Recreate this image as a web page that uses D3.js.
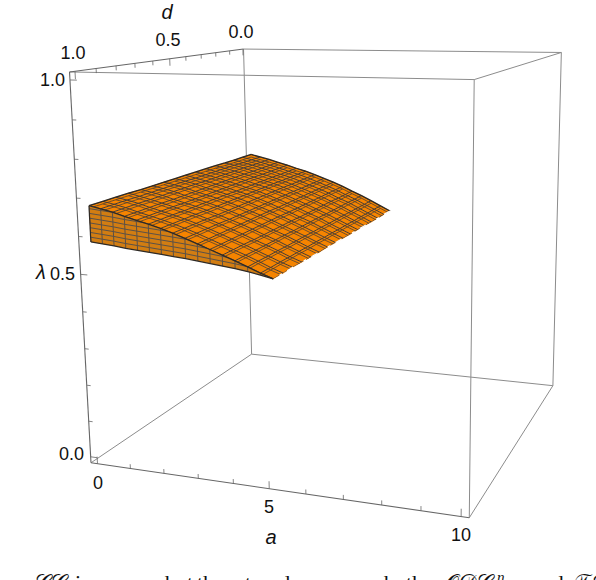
<!DOCTYPE html><html><head><meta charset="utf-8"><style>body{margin:0;background:#fff}text{font-family:"Liberation Sans",Arial,sans-serif;fill:#111}</style></head><body><script src="https://cdn.jsdelivr.net/npm/d3@7"></script>
<svg id="s" width="596" height="580"></svg>
<script>
// ---------- data ----------
const aDomain=[-0.2,10.2], dDomain=[-0.005,1.025], lambdaDomain=[-0.017,1.02];
const aTicks=[0,1,2,3,4,5,6,7,8,9,10];
const dTicks=[0,.1,.2,.3,.4,.5,.6,.7,.8,.9,1];
const lambdaTicks=[0,.1,.2,.3,.4,.5,.6,.7,.8,.9,1];
const aMajor=[0,5,10], dLabels=[0,.5,1], lambdaLabels=[0,.5,1];
const aGridShare=[0,.0667,.1333,.2,.2667,.3333,.4,.4667,.5333,.6,.6667,.7333,.8,.8667,.9333,1];
const aEndByRow=[4.84,4.859,4.879,4.898,4.917,4.937,4.956,4.975,4.995,5.014,5.033,5.053,5.072,5.091,5.111,5.13];
const dGrid=[0,.067,.133,.2,.267,.333,.4,.467,.533,.6,.667,.733,.8,.867,.933,1];
// upper sheet: one row per d, one value per a
const lambdaTop=[
[.675,.668,.661,.653,.645,.636,.628,.618,.607,.596,.584,.570,.557,.542,.527,.512],
[.675,.668,.661,.653,.645,.636,.628,.618,.607,.596,.584,.570,.557,.542,.528,.513],
[.675,.668,.661,.653,.645,.636,.628,.618,.607,.596,.584,.570,.558,.543,.528,.513],
[.675,.669,.662,.653,.645,.637,.628,.618,.607,.596,.584,.571,.558,.543,.529,.514],
[.676,.669,.662,.654,.646,.637,.629,.619,.608,.596,.584,.571,.558,.544,.529,.515],
[.676,.669,.662,.654,.646,.637,.629,.619,.608,.596,.584,.571,.558,.544,.530,.516],
[.676,.669,.662,.654,.646,.637,.629,.619,.608,.596,.584,.571,.559,.544,.530,.516],
[.676,.669,.662,.654,.646,.637,.629,.619,.608,.596,.584,.571,.559,.545,.531,.517],
[.676,.670,.663,.654,.646,.638,.629,.619,.608,.597,.585,.572,.559,.545,.531,.518],
[.676,.670,.663,.654,.646,.638,.629,.619,.608,.597,.585,.572,.559,.546,.532,.519],
[.676,.670,.663,.654,.646,.638,.629,.619,.608,.597,.585,.572,.560,.546,.532,.519],
[.676,.670,.663,.654,.646,.638,.629,.619,.608,.597,.585,.572,.560,.546,.533,.520],
[.677,.670,.663,.655,.647,.638,.630,.620,.609,.597,.585,.572,.560,.547,.533,.521],
[.677,.671,.664,.655,.647,.639,.630,.620,.609,.597,.585,.573,.560,.547,.534,.522],
[.677,.671,.664,.655,.647,.639,.630,.620,.609,.597,.585,.573,.561,.548,.534,.522],
[.677,.671,.664,.655,.647,.639,.630,.620,.609,.597,.585,.573,.561,.548,.535,.523]];
// lower edge of the wall at d = 1
const lambdaBottom=[.582,.579,.576,.572,.569,.566,.563,.560,.557,.553,.549,.545,.541,.536,.530,.523];
const wallLevels=[.0125,.025,.0375,.05,.0625,.075,.0875];
const captionWords=[["𝒞𝒞",35],["increases,",75],["but",165],["the",197],["trend",245],["as",335],["both",384],["𝒪𝒟𝒞",445],["and",532],["𝒯𝒮",573]];

// ---------- perspective camera fitted to the box corners on the page ----------
const boxPage=[[0,0,0,252,354],[1,0,0,552.7,385.7],[0,1,0,90.7,463],[1,1,0,469.3,517.7],[0,0,1,243,49],[1,0,1,561.7,52.7],[0,1,1,70,72],[1,1,1,474,79.3]];
const A=[],b=[];
boxPage.forEach(([u,v,w,x,y])=>{A.push([u,v,w,1,0,0,0,0,-x*u,-x*v,-x*w]);b.push(x);A.push([0,0,0,0,u,v,w,1,-y*u,-y*v,-y*w]);b.push(y);});
const n=11,M=d3.range(n).map(i=>d3.range(n+1).map(j=>j<n?d3.sum(A,r=>r[i]*r[j]):d3.sum(A,(r,k)=>r[i]*b[k])));
for(let i=0;i<n;i++){let p=i;for(let r=i+1;r<n;r++)if(Math.abs(M[r][i])>Math.abs(M[p][i]))p=r;[M[i],M[p]]=[M[p],M[i]];for(let r=0;r<n;r++)if(r!==i){const f=M[r][i]/M[i][i];for(let c=i;c<=n;c++)M[r][c]-=f*M[i][c];}}
const h=M.map((r,i)=>r[n]/r[i]);
const U=d3.scaleLinear(aDomain,[0,1]),V=d3.scaleLinear(dDomain,[0,1]),W=d3.scaleLinear(lambdaDomain,[0,1]);
function proj(a,d,l){const u=U(a),v=V(d),w=W(l),q=h[8]*u+h[9]*v+h[10]*w+1;
 return [(h[0]*u+h[1]*v+h[2]*w+h[3])/q,(h[4]*u+h[5]*v+h[6]*w+h[7])/q];}

const svg=d3.select('#s');
const line=d3.line();
const [a0,a1]=aDomain,[d0,d1]=dDomain,[l0,l1]=lambdaDomain;
const seg=(g,p,q,c,w)=>g.append('path').attr('d',line([p,q])).attr('fill','none').attr('stroke',c).attr('stroke-width',w);
// box
const box=svg.append('g');
const C='#8c8c8c';
[[[a0,d0,l0],[a1,d0,l0]],[[a1,d0,l0],[a1,d1,l0]],[[a0,d0,l0],[a0,d1,l0]],
 [[a0,d0,l0],[a0,d0,l1]],[[a1,d0,l0],[a1,d0,l1]],[[a1,d1,l0],[a1,d1,l1]],
 [[a0,d0,l1],[a1,d0,l1]],[[a1,d0,l1],[a1,d1,l1]],[[a0,d1,l1],[a1,d1,l1]]]
 .forEach(([p,q])=>seg(box,proj(...p),proj(...q),C,1));
const axisC='#666';
seg(box,proj(a0,d1,l0),proj(a1,d1,l0),axisC,1.1);
seg(box,proj(a0,d1,l0),proj(a0,d1,l1),axisC,1.1);
seg(box,proj(a0,d0,l1),proj(a0,d1,l1),axisC,1.1);
// ticks
aTicks.forEach(t=>seg(box,proj(t,d1,l0),proj(t,d1,l0+(aMajor.includes(t)?.02:.012)),axisC,.8));
dTicks.forEach(t=>seg(box,proj(a0,t,l1),proj(a0,t,l1-(dLabels.includes(t)?.02:.012)),axisC,.8));
lambdaTicks.forEach(t=>seg(box,proj(a0,d1,t),proj(a0+(lambdaLabels.includes(t)?.2:.12),d1,t),axisC,.8));
// labels
const label=(s,x,y,o={})=>svg.append('text').attr('x',x).attr('y',y).attr('text-anchor',o.anchor||'middle').attr('dominant-baseline','central').attr('font-size',o.size||18).attr('font-style',o.italic?'italic':null).text(s);
label('0',98,483);label('5',269,507);label('10',461,535);label('a',271,537,{italic:1,size:20});
label('1.0',73,53);label('0.5',168,40);label('0.0',241,32);label('d',167,12,{italic:1,size:20});
label('1.0',65,80,{anchor:'end'});label('0.5',75,274,{anchor:'end'});label('0.0',84,454,{anchor:'end'});label('λ',41,272,{italic:1,size:20});

// surface
const surf=svg.append('g');
const Md=dGrid.length,N=aGridShare.length,last=N-1;
const P=(i,j)=>proj(aGridShare[i]*aEndByRow[j],dGrid[j],lambdaTop[j][i]);
// wall at d = 1
const wallAt=(i,l)=>proj(aGridShare[i]*aEndByRow[Md-1],dGrid[Md-1],l);
const wallOutline=[...d3.range(N).map(i=>wallAt(i,lambdaTop[Md-1][i])),...d3.range(N).reverse().map(i=>wallAt(i,lambdaBottom[i]))];
surf.append('path').attr('d',line(wallOutline)+'Z').attr('fill','#d27d12');
svg.append('clipPath').attr('id','wall').append('path').attr('d',line(wallOutline)+'Z');
// top cells
const idPairs=d3.cross(d3.range(N-1),d3.range(Md-1));
surf.selectAll('path.cell').data(idPairs).join('path').attr('class','cell')
 .attr('d',([i,j])=>line([P(i,j),P(i+1,j),P(i+1,j+1),P(i,j+1)])+'Z').attr('fill','#f58400').attr('stroke','#f58400').attr('stroke-width',.4);
const outline=[...d3.range(N).map(i=>P(i,0)),...d3.range(Md).map(j=>P(last,j)),...d3.range(N).reverse().map(i=>P(i,Md-1)),...d3.range(Md).reverse().map(j=>P(0,j))];
svg.append('clipPath').attr('id','top').append('path').attr('d',line(outline)+'Z');
const mesh=(g,c,w)=>{
 d3.range(N).forEach(i=>g.append('path').attr('d',line(d3.range(Md).map(j=>P(i,j)))).attr('fill','none').attr('stroke',c).attr('stroke-width',w));
 d3.range(Md).forEach(j=>g.append('path').attr('d',line(d3.range(N).map(i=>P(i,j)))).attr('fill','none').attr('stroke',c).attr('stroke-width',w));};
const shadow=surf.append('g').attr('clip-path','url(#top)').append('g').attr('transform','translate(0,2.6)');
mesh(shadow,'#4e4034',.8);
mesh(surf.append('g').attr('clip-path','url(#top)'),'#463c34',1);
// wall mesh
const wallMesh=surf.append('g').attr('clip-path','url(#wall)');
d3.range(N).forEach(i=>wallMesh.append('path').attr('d',line([wallAt(i,lambdaTop[Md-1][i]),wallAt(i,lambdaBottom[i])])).attr('stroke','#5b5148').attr('stroke-width',1));
wallLevels.forEach(t=>wallMesh.append('path').attr('d',line(d3.range(N).map(i=>wallAt(i,lambdaBottom[i]+t)))).attr('fill','none').attr('stroke','#5b5148').attr('stroke-width',1));
// boundary lines
const edge=(pts,c,w,dash)=>surf.append('path').attr('d',line(pts)).attr('fill','none').attr('stroke',c).attr('stroke-width',w).attr('stroke-dasharray',dash||null);
edge(d3.range(N).map(i=>P(i,0)),'#2e2a26',1.3);
edge(d3.range(Md).map(j=>P(0,j)),'#2e2a26',1.3);
edge(d3.range(N).map(i=>P(i,Md-1)),'#2e2a26',1.3);
edge(d3.range(N).map(i=>wallAt(i,lambdaBottom[i])),'#2e2a26',1.3);
edge([wallAt(0,lambdaBottom[0]),wallAt(0,lambdaTop[Md-1][0])],'#2e2a26',1.2);
edge(d3.range(Md).map(j=>P(last,j)),'#fff',1.3,'7 6 3 12');
// caption, cut by the page edge
captionWords.forEach(([s,x])=>svg.append('text').attr('x',x).attr('y',590).attr('font-size',22).style('font-family','"Liberation Serif",serif').text(s));
svg.append('text').attr('x',497).attr('y',582).attr('font-size',15).style('font-family','"Liberation Serif",serif').attr('font-style','italic').text('η');
</script></body></html>
